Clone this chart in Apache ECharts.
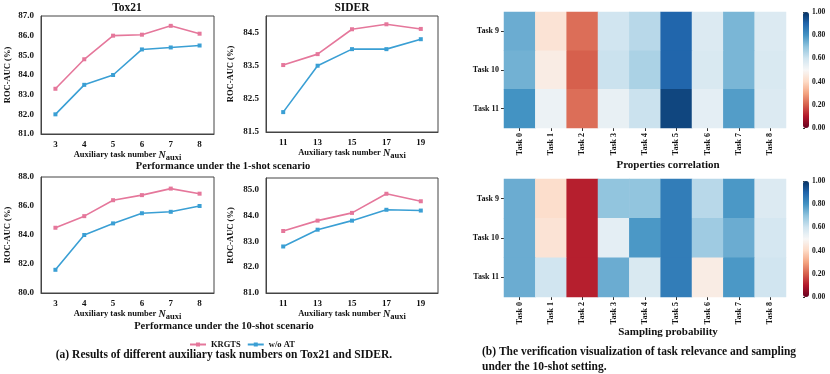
<!DOCTYPE html>
<html>
<head>
<meta charset="utf-8">
<script src="https://cdn.jsdelivr.net/npm/echarts@6/dist/echarts.min.js"></script>
<style>
  html, body { margin: 0; padding: 0; background: #fff; }
  #main { width: 830px; height: 374px; }
</style>
</head>
<body>
<div id="main"></div>
<script>
// auxiliary task numbers
const tox21Tasks = ['3', '4', '5', '6', '7', '8']
const siderTasks = ['11', '13', '15', '17', '19']
// ROC-AUC (%) 1-shot
const tox21Krgts1 = [83.3, 84.8, 86.0, 86.05, 86.5, 86.1]
const tox21WoAt1 = [82.0, 83.5, 84.0, 85.3, 85.4, 85.5]
const siderKrgts1 = [83.52, 83.85, 84.6, 84.75, 84.61]
const siderWoAt1 = [82.1, 83.5, 84.0, 84.0, 84.3]
// ROC-AUC (%) 10-shot
const tox21Krgts10 = [84.5, 85.3, 86.4, 86.75, 87.2, 86.85]
const tox21WoAt10 = [81.6, 84.0, 84.8, 85.5, 85.6, 86.0]
const siderKrgts10 = [83.4, 83.8, 84.1, 84.84, 84.55]
const siderWoAt10 = [82.8, 83.45, 83.8, 84.22, 84.19]
const siderTicks1 = [81.5, 82.5, 83.5, 84.5]
const siderTicks10 = [81, 82, 83, 84, 85]

// heatmaps
const heatCols = ['Task 0', 'Task 1', 'Task 2', 'Task 3', 'Task 4', 'Task 5', 'Task 6', 'Task 7', 'Task 8']
const heatRows = ['Task 9', 'Task 10', 'Task 11']
const corrTask9 = [0.75, 0.43, 0.22, 0.6, 0.64, 0.9, 0.57, 0.73, 0.57]
const corrTask10 = [0.74, 0.46, 0.2, 0.61, 0.66, 0.9, 0.58, 0.73, 0.58]
const corrTask11 = [0.8, 0.53, 0.22, 0.54, 0.61, 0.96, 0.55, 0.78, 0.57]
const probTask9 = [0.75, 0.41, 0.11, 0.7, 0.7, 0.85, 0.64, 0.79, 0.57]
const probTask10 = [0.75, 0.43, 0.11, 0.55, 0.79, 0.85, 0.68, 0.75, 0.59]
const probTask11 = [0.75, 0.6, 0.11, 0.75, 0.58, 0.85, 0.46, 0.79, 0.6]
const colorbarTicks = [0, 0.2, 0.4, 0.6, 0.8, 1.0]

const rdbu = ['#67001f', '#b2182b', '#d6604d', '#f4a582', '#fddbc7', '#f7f7f7',
  '#d1e5f0', '#92c5de', '#4393c3', '#2166ac', '#053061']
const pink = '#e5779b'
const blue = '#3a9fd4'
const serif = 'Liberation Serif'
const axisColor = '#444'

const toCells = (rows) => {
  const out = []
  rows.forEach((row, r) => row.forEach((v, c) => out.push([c, r, v])))
  return out
}

const lineGrids = [
  { left: 41, top: 16, width: 173, height: 118 },
  { left: 266, top: 16, width: 172, height: 116 },
  { left: 41, top: 177, width: 173, height: 116 },
  { left: 266, top: 178, width: 172, height: 115 }
]
const heatGrids = [
  { left: 504, top: 12, width: 282, height: 116 },
  { left: 504, top: 179, width: 282, height: 118 }
]
const barGrids = [
  { left: 803, top: 12, width: 6, height: 116 },
  { left: 803, top: 181, width: 6, height: 116 }
]

const lineX = (gi, cats) => ({
  type: 'category',
  gridIndex: gi,
  data: cats,
  boundaryGap: true,
  axisLine: { lineStyle: { color: axisColor, width: 1 } },
  axisTick: { show: false },
  axisLabel: { fontFamily: serif, fontWeight: 'bold', fontSize: 9, color: '#111', margin: 6 },
  name: 'Auxiliary task number {n|N}{s|auxi}',
  nameLocation: 'middle',
  nameGap: 14,
  nameTextStyle: {
    fontFamily: serif, fontWeight: 'bold', fontSize: 8.5, color: '#111',
    rich: {
      n: { fontFamily: serif, fontStyle: 'italic', fontWeight: 'bold', fontSize: 10, color: '#111' },
      s: { fontFamily: serif, fontWeight: 'bold', fontSize: 8.5, color: '#111', padding: [5, 0, 0, 0] }
    }
  }
})

const lineY = (gi, min, max, interval, custom, gap) => ({
  type: 'value',
  gridIndex: gi,
  min: min,
  max: max,
  interval: custom ? undefined : interval,
  splitLine: { show: false },
  axisLine: { show: true, lineStyle: { color: axisColor, width: 1 } },
  axisTick: { show: false, customValues: custom },
  axisLabel: {
    fontFamily: serif, fontWeight: 'bold', fontSize: 9, color: '#111', margin: 7,
    customValues: custom,
    formatter: (v) => v.toFixed(1)
  },
  name: 'ROC-AUC (%)',
  nameLocation: 'middle',
  nameGap: gap,
  nameTextStyle: { fontFamily: serif, fontWeight: 'bold', fontSize: 8.5, color: '#111' }
})

const lineSeries = (gi, name, data, color) => ({
  type: 'line',
  name: name,
  xAxisIndex: gi,
  yAxisIndex: gi,
  data: data,
  symbol: 'rect',
  symbolSize: 4,
  showAllSymbol: true,
  lineStyle: { color: color, width: 1.6 },
  itemStyle: { color: color },
  emphasis: { disabled: true },
  animation: false
})

const heatX = (gi) => ({
  type: 'category',
  gridIndex: gi,
  data: heatCols,
  axisLine: { show: false },
  axisTick: { show: true, length: 3, alignWithLabel: true, lineStyle: { color: '#333' } },
  axisLabel: { rotate: 90, fontFamily: serif, fontWeight: 'bold', fontSize: 8, color: '#111', margin: 5 },
  splitLine: { show: false }
})
const heatY = (gi) => ({
  type: 'category',
  gridIndex: gi,
  data: heatRows,
  inverse: true,
  axisLine: { show: false },
  axisTick: { show: true, length: 3, alignWithLabel: true, lineStyle: { color: '#333' } },
  axisLabel: { fontFamily: serif, fontWeight: 'bold', fontSize: 8, color: '#111', margin: 5 },
  splitLine: { show: false }
})
const barX = (gi) => ({ type: 'value', gridIndex: gi, show: false, min: 0, max: 1 })
const barY = (gi) => ({
  type: 'value',
  gridIndex: gi,
  position: 'right',
  min: 0,
  max: 1,
  interval: 0.2,
  splitLine: { show: false },
  axisLine: { show: false },
  axisTick: { show: true, length: 2, lineStyle: { color: '#333' } },
  axisLabel: { fontFamily: serif, fontWeight: 'bold', fontSize: 7.5, color: '#111', margin: 3,
    formatter: (v) => v.toFixed(2) }
})

const text = (x, y, str, size, align) => ({
  type: 'text',
  x: x,
  y: y,
  style: {
    text: str,
    fontFamily: serif,
    fontWeight: 'bold',
    fontSize: size,
    fill: '#111',
    textAlign: align || 'center',
    textVerticalAlign: 'middle',
    lineHeight: 15
  }
})

const chart = echarts.init(document.getElementById('main'))
chart.setOption({
  animation: false,
  grid: [...lineGrids, ...heatGrids, ...barGrids].map((g, i) => ({
    ...g,
    show: i < 4,
    borderColor: axisColor,
    borderWidth: 1,
    containLabel: false
  })),
  xAxis: [
    lineX(0, tox21Tasks), lineX(1, siderTasks), lineX(2, tox21Tasks), lineX(3, siderTasks),
    heatX(4), heatX(5), barX(6), barX(7)
  ],
  yAxis: [
    lineY(0, 81, 87, 1, null, 29),
    lineY(1, 81.5, 85.0, 1, siderTicks1, 31),
    lineY(2, 80, 88, 2, null, 29),
    lineY(3, 81, 85.45, 1, siderTicks10, 31),
    heatY(4), heatY(5), barY(6), barY(7)
  ],
  legend: {
    data: ['KRGTS', 'w/o AT'],
    left: 184,
    top: 335,
    itemWidth: 16,
    itemHeight: 5,
    itemGap: 6,
    textStyle: { fontFamily: serif, fontWeight: 'bold', fontSize: 8.5, color: '#111' }
  },
  visualMap: [0, 1].map((i) => ({
    type: 'continuous',
    min: 0,
    max: 1,
    seriesIndex: 8 + i,
    calculable: false,
    orient: 'vertical',
    left: 803,
    top: barGrids[i].top,
    itemWidth: 6,
    itemHeight: barGrids[i].height,
    padding: 0,
    inRange: { color: rdbu }
  })),
  series: [
    lineSeries(0, 'KRGTS', tox21Krgts1, pink),
    lineSeries(0, 'w/o AT', tox21WoAt1, blue),
    lineSeries(1, 'KRGTS', siderKrgts1, pink),
    lineSeries(1, 'w/o AT', siderWoAt1, blue),
    lineSeries(2, 'KRGTS', tox21Krgts10, pink),
    lineSeries(2, 'w/o AT', tox21WoAt10, blue),
    lineSeries(3, 'KRGTS', siderKrgts10, pink),
    lineSeries(3, 'w/o AT', siderWoAt10, blue),
    {
      type: 'heatmap', xAxisIndex: 4, yAxisIndex: 4,
      data: toCells([corrTask9, corrTask10, corrTask11]),
      emphasis: { disabled: true }
    },
    {
      type: 'heatmap', xAxisIndex: 5, yAxisIndex: 5,
      data: toCells([probTask9, probTask10, probTask11]),
      emphasis: { disabled: true }
    },
    { type: 'line', xAxisIndex: 6, yAxisIndex: 6, data: [] },
    { type: 'line', xAxisIndex: 7, yAxisIndex: 7, data: [] }
  ],
  graphic: [
    text(127, 8, 'Tox21', 11.5),
    text(352, 8, 'SIDER', 11.5),
    text(223, 166, 'Performance under the 1-shot scenario', 10.5),
    text(224, 326, 'Performance under the 10-shot scenario', 10.5),
    text(224, 355, '(a) Results of different auxiliary task numbers on Tox21 and SIDER.', 11.5),
    text(668, 165, 'Properties correlation', 11),
    text(668, 332, 'Sampling probability', 11),
    text(482, 352, '(b) The verification visualization of task relevance and sampling', 11.5, 'left'),
    text(482, 367, 'under the 10-shot setting.', 11.5, 'left')
  ]
})
</script>
</body>
</html>
